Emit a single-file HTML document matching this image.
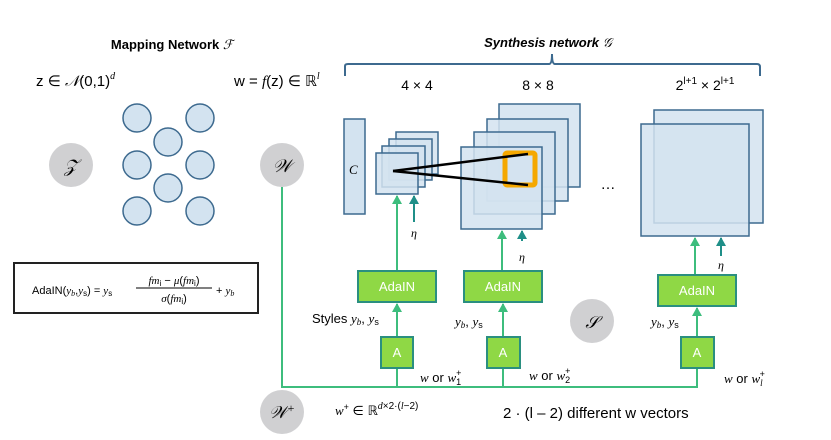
<!DOCTYPE html>
<html><head><meta charset="utf-8"><style>
html,body{margin:0;padding:0;background:#fff;}
svg{display:block;font-family:"Liberation Sans","DejaVu Sans",sans-serif;}
.it{font-family:"Liberation Serif","DejaVu Serif",serif;font-style:italic;}
.sc{font-family:"DejaVu Sans",serif;}
</style></head><body>
<svg width="831" height="440" viewBox="0 0 831 440" xmlns="http://www.w3.org/2000/svg">
<defs>
<marker id="ag" markerWidth="12" markerHeight="12" refX="8" refY="5" orient="auto" markerUnits="userSpaceOnUse"><path d="M0,0 L9,5 L0,10 Z" fill="#3dbd7d"/></marker>
<marker id="at" markerWidth="12" markerHeight="12" refX="8" refY="5" orient="auto" markerUnits="userSpaceOnUse"><path d="M0,0 L9,5 L0,10 Z" fill="#1f8f88"/></marker>
</defs>
<!-- titles -->
<text x="172" y="49" font-size="13" font-weight="bold" text-anchor="middle">Mapping Network <tspan class="it" font-weight="normal">ℱ</tspan></text>
<text x="548" y="47" font-size="13" font-weight="bold" font-style="italic" text-anchor="middle">Synthesis network <tspan class="it" font-weight="normal">𝒢</tspan></text>
<text x="36" y="86" font-size="15">z ∈ <tspan class="it">𝒩</tspan>(0,1)<tspan font-size="10" dy="-7" class="it">d</tspan></text>
<text x="234" y="86" font-size="15">w = <tspan class="it">f</tspan>(z) ∈ ℝ<tspan font-size="10" dy="-7" class="it">l</tspan></text>
<!-- brace -->
<path d="M345,76 L345,66 Q345,64 348,64 L549,64 Q552,64 552,54 Q552,64 555,64 L757,64 Q760,64 760,67 L760,76" fill="none" stroke="#3d6a8f" stroke-width="2"/>
<text x="417" y="90" font-size="14" text-anchor="middle">4 × 4</text>
<text x="538" y="90" font-size="14" text-anchor="middle">8 × 8</text>
<text x="705" y="90" font-size="14" text-anchor="middle">2<tspan font-size="10" dy="-6">l+1</tspan><tspan dy="6"> × 2</tspan><tspan font-size="10" dy="-6">l+1</tspan></text>
<!-- mapping circles -->
<g fill="#d0d0d2"><circle cx="71" cy="165" r="22"/><circle cx="282" cy="165" r="22"/><circle cx="282" cy="412" r="22"/><circle cx="592" cy="321" r="22"/></g>
<text x="71" y="172" font-size="18" class="it" text-anchor="middle">𝒵</text>
<text x="282" y="172" font-size="18" class="it" text-anchor="middle">𝒲</text>
<text x="282" y="418" font-size="17" class="it" text-anchor="middle">𝒲<tspan font-size="12" dy="-6">+</tspan></text>
<text x="592" y="328" font-size="17" class="it" text-anchor="middle">𝒮</text>
<g fill="#d3e3f0" stroke="#3d6a8f" stroke-width="1.5">
<circle cx="137" cy="118" r="14"/><circle cx="200" cy="118" r="14"/><circle cx="168" cy="142" r="14"/>
<circle cx="137" cy="165" r="14"/><circle cx="200" cy="165" r="14"/><circle cx="168" cy="188" r="14"/>
<circle cx="137" cy="211" r="14"/><circle cx="200" cy="211" r="14"/>
</g>
<!-- formula box -->
<rect x="14" y="263" width="244" height="50" fill="#fff" stroke="#222" stroke-width="2"/>
<text x="32" y="294" font-size="11">AdaIN(<tspan class="it">y</tspan><tspan font-size="8" dy="2" class="it">b</tspan><tspan dy="-2">,</tspan><tspan class="it">y</tspan><tspan font-size="8" dy="2">s</tspan><tspan dy="-2">) = </tspan><tspan class="it">y</tspan><tspan font-size="8" dy="2">s</tspan></text>
<text x="174" y="284" font-size="11" text-anchor="middle"><tspan class="it">fm</tspan><tspan font-size="8" dy="2">i</tspan><tspan dy="-2"> − </tspan><tspan class="it">μ</tspan>(<tspan class="it">fm</tspan><tspan font-size="8" dy="2">i</tspan><tspan dy="-2">)</tspan></text>
<line x1="136" y1="288" x2="212" y2="288" stroke="#000" stroke-width="1"/>
<text x="174" y="302" font-size="11" text-anchor="middle"><tspan class="it">σ</tspan>(<tspan class="it">fm</tspan><tspan font-size="8" dy="2">i</tspan><tspan dy="-2">)</tspan></text>
<text x="216" y="294" font-size="11">+ <tspan class="it">y</tspan><tspan font-size="8" dy="2" class="it">b</tspan></text>
<!-- synthesis blocks -->
<g fill="#d3e3f0" fill-opacity="0.85" stroke="#3d6a8f" stroke-width="1.5">
<rect x="344" y="119" width="21" height="95" fill-opacity="1"/>
<rect x="396" y="132" width="42" height="42"/>
<rect x="389" y="139" width="43" height="41"/>
<rect x="382" y="146" width="43" height="41"/>
<rect x="376" y="153" width="42" height="41"/>
<rect x="499" y="104" width="81" height="83"/>
<rect x="487" y="119" width="81" height="82"/>
<rect x="474" y="132" width="81" height="82"/>
<rect x="461" y="147" width="81" height="82"/>
<rect x="654" y="110" width="109" height="113"/>
<rect x="641" y="124" width="108" height="112"/>
</g>
<rect x="505" y="153" width="30" height="32" fill="none" stroke="#f5a800" stroke-width="5" rx="2"/>
<line x1="393" y1="171" x2="528" y2="154" stroke="#000" stroke-width="2.5"/>
<line x1="393" y1="171" x2="528" y2="185" stroke="#000" stroke-width="2.5"/>
<text x="349" y="174" font-size="13" class="it">C</text>
<text x="608" y="189" font-size="15" text-anchor="middle">…</text>
<!-- green wiring -->
<g stroke="#3dbd7d" stroke-width="2" fill="none">
<polyline points="282,187 282,387 697,387 697,368"/>
<line x1="397" y1="387" x2="397" y2="368"/>
<line x1="503" y1="387" x2="503" y2="368"/>
<line x1="397" y1="337" x2="397" y2="304" marker-end="url(#ag)"/>
<line x1="503" y1="337" x2="503" y2="304" marker-end="url(#ag)"/>
<line x1="697" y1="337" x2="697" y2="308" marker-end="url(#ag)"/>
<line x1="397" y1="271" x2="397" y2="196" marker-end="url(#ag)"/>
<line x1="502" y1="271" x2="502" y2="231" marker-end="url(#ag)"/>
<line x1="695" y1="275" x2="695" y2="238" marker-end="url(#ag)"/>
</g>
<g stroke="#1f8f88" stroke-width="2">
<line x1="414" y1="222" x2="414" y2="196" marker-end="url(#at)"/>
<line x1="522" y1="241" x2="522" y2="231" marker-end="url(#at)"/>
<line x1="721" y1="256" x2="721" y2="238" marker-end="url(#at)"/>
</g>
<text x="414" y="237" font-size="12" class="it" text-anchor="middle">η</text>
<text x="522" y="261" font-size="12" class="it" text-anchor="middle">η</text>
<text x="721" y="269" font-size="12" class="it" text-anchor="middle">η</text>
<!-- AdaIN and A boxes -->
<g fill="#8fd845" stroke="#2a8f80" stroke-width="2">
<rect x="358" y="271" width="78" height="31"/>
<rect x="464" y="271" width="78" height="31"/>
<rect x="658" y="275" width="78" height="31"/>
<rect x="381" y="337" width="32" height="31"/>
<rect x="487" y="337" width="33" height="31"/>
<rect x="681" y="337" width="33" height="31"/>
</g>
<g fill="#fff" font-size="13" text-anchor="middle">
<text x="397" y="291">AdaIN</text><text x="503" y="291">AdaIN</text><text x="697" y="295">AdaIN</text>
<text x="397" y="357">A</text><text x="503" y="357">A</text><text x="697" y="357">A</text>
</g>
<g font-size="13">
<text x="312" y="323">Styles <tspan class="it">y</tspan><tspan font-size="9" dy="2" class="it">b</tspan><tspan dy="-2">, </tspan><tspan class="it">y</tspan><tspan font-size="9" dy="2">s</tspan></text>
<text x="455" y="326"><tspan class="it">y</tspan><tspan font-size="9" dy="2" class="it">b</tspan><tspan dy="-2">, </tspan><tspan class="it">y</tspan><tspan font-size="9" dy="2">s</tspan></text>
<text x="651" y="326"><tspan class="it">y</tspan><tspan font-size="9" dy="2" class="it">b</tspan><tspan dy="-2">, </tspan><tspan class="it">y</tspan><tspan font-size="9" dy="2">s</tspan></text>
<text x="420" y="382"><tspan class="it">w</tspan> or <tspan class="it">w</tspan><tspan font-size="9" dy="3">1</tspan><tspan font-size="9" dy="-9" dx="-5">+</tspan></text>
<text x="529" y="380"><tspan class="it">w</tspan> or <tspan class="it">w</tspan><tspan font-size="9" dy="3">2</tspan><tspan font-size="9" dy="-9" dx="-5">+</tspan></text>
<text x="724" y="383"><tspan class="it">w</tspan> or <tspan class="it">w</tspan><tspan font-size="9" dy="3" class="it">l</tspan><tspan font-size="9" dy="-9" dx="-3">+</tspan></text>
<text x="335" y="415"><tspan class="it">w</tspan><tspan font-size="9" dy="-5">+</tspan><tspan dy="5"> ∈ ℝ</tspan><tspan font-size="10" dy="-6"><tspan class="it">d</tspan>×2·(<tspan class="it">l</tspan>−2)</tspan></text>
<text x="503" y="418" font-size="15">2 · (l – 2) different w vectors</text>
</g>
</svg>
</body></html>
